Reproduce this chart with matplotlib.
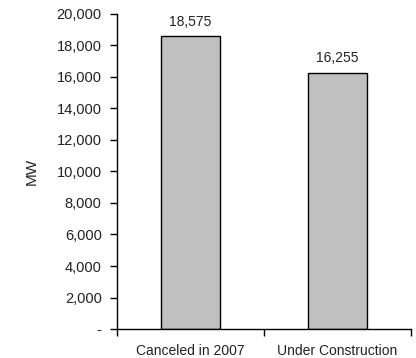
import matplotlib
matplotlib.use("Agg")
import matplotlib.pyplot as plt
from matplotlib.ticker import FuncFormatter

categories = ["Canceled in 2007", "Under Construction"]
values = [18575, 16255]
yticks = [0, 2000, 4000, 6000, 8000, 10000, 12000, 14000, 16000, 18000, 20000]

plt.rcParams['font.family'] = ['Liberation Sans', 'DejaVu Sans']

fig = plt.figure(figsize=(4.16, 3.58), dpi=100)
ax = fig.add_axes([117/416, 1-329/358, (411-117)/416, (329-14)/358])

x = list(range(len(categories)))
bars = ax.bar(x, values, width=0.4, color="#c0c0c0", edgecolor="black", linewidth=1.0)
for xi, v in zip(x, values):
    ax.text(xi, v + 500, f"{v:,}", ha="center", va="bottom", fontsize=10, color="#222222")

ax.set_xlim(-0.5, 1.5)
ax.set_ylim(0, 20000)
ax.set_yticks(yticks)
ax.yaxis.set_major_formatter(FuncFormatter(lambda v, p: "-" if v == 0 else f"{int(v):,}"))
ax.set_xticks([-0.5, 0.5, 1.5])
ax.set_xticklabels([])
ax.set_xticks(x, minor=True)
ax.set_xticklabels(categories, minor=True)
ax.tick_params(axis="x", which="minor", length=0, pad=10.5, labelsize=10)
ax.tick_params(axis="x", which="major", length=5, direction="out", width=1)
ax.tick_params(axis="y", length=5, direction="out", width=1, labelsize=10.5, pad=6)
for lbl in ax.get_yticklabels() + ax.get_xticklabels(minor=True):
    lbl.set_color("#222222")

ax.spines["top"].set_visible(False)
ax.spines["right"].set_visible(False)
ax.spines["left"].set_linewidth(1)
ax.spines["bottom"].set_linewidth(1)

ax.set_ylabel("MW", fontsize=11, color="#222222", labelpad=13)

fig.savefig("out.png", dpi=100)
